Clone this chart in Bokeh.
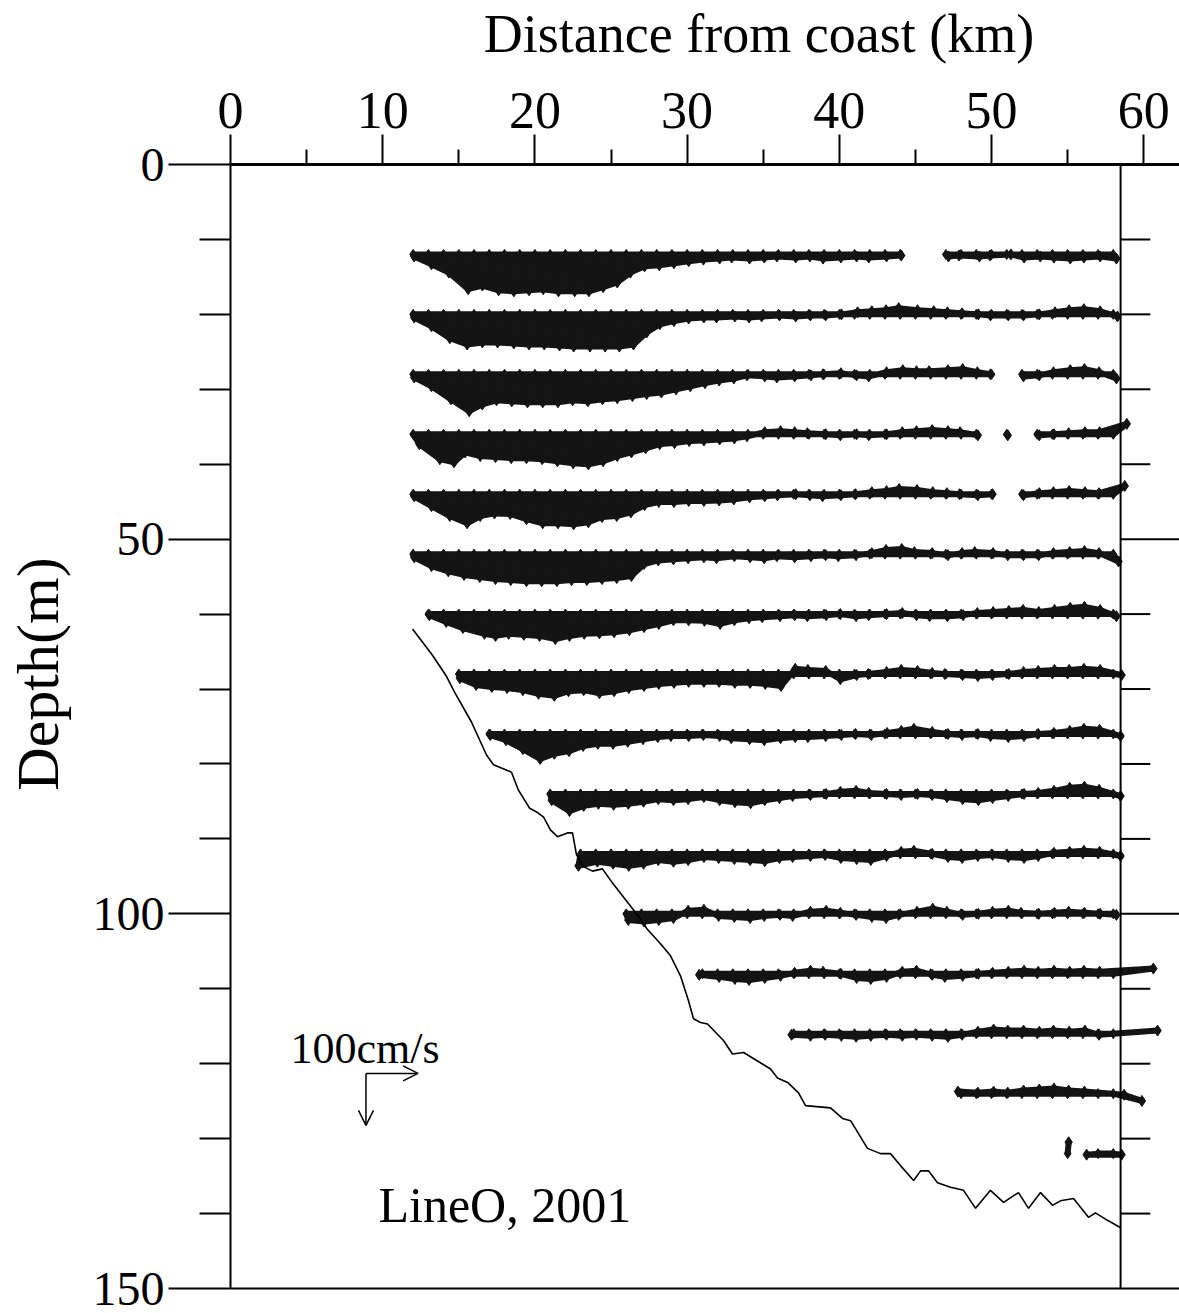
import math
from bokeh.plotting import figure
from bokeh.models import Range1d, FixedTicker, LinearAxis, Arrow, OpenHead, Span
from bokeh.core.properties import value
from bokeh.embed import file_html
from bokeh.resources import INLINE

nan = float("nan")

# ---------------- data ----------------
# depth (m) of each ADCP bin row and first station (km); stations every 1 km
ROW_DEPTH = [12, 20, 28, 36, 44, 52, 60, 68, 76, 84, 92, 100, 108, 116, 124, 132]
ROW_START = [12, 12, 12, 12, 12, 12, 13, 15, 17, 21, 23, 26, 31, 37, 48, 55]

# u: cross-shore component (cm/s, + to the right); v: component drawn downward (cm/s)
U1 = [2,6,10,18,16,18,18,18,16,16, 18,16,14,12,8,6,5,4,3,2, 4,-2,3,2,-3,4,2,-2,3,4, -2,3,2,nan,nan,5,-4,6,-3,8, 4,6,3,5,2,4,6]
V1 = [4,19,35,67,60,69,71,69,67,71, 71,71,63,54,35,23,21,17,13,10, 8,6,8,6,4,6,4,8,6,4, 6,4,2,nan,nan,4,2,4,2,0, 6,4,6,8,6,4,8]
U2 = [2,6,12,16,16,16,18,18,18,18, 16,18,18,16,14,10,6,4,3,3, -2,4,2,-3,2,4,3,3,4,6, 4,2,-3,4,6,3,2,4,-2,3, 3,4,5,3,2,4,8]
V2 = [6,23,46,58,54,54,56,58,58,60, 62,62,62,62,58,35,19,13,8,6, 6,4,6,4,2,4,2,2,0,-4, -6,-8,-12,-8,-6,-4,-2,0,2,2, 2,0,-4,-8,-10,-6,4]
U3 = [2,6,14,20,16,14,14,15,15,15, 14,14,13,12,12,10,9,8,6,5, 3,2,-2,3,-3,2,4,-2,3,4, -2,3,5,2,-3,4,3,2,-2,nan, 3,4,2,5,3,2,6]
V3 = [6,23,48,71,58,50,52,54,54,54, 50,52,48,46,42,38,35,29,23,17, 12,8,2,4,6,4,2,0,-2,2, 4,-4,-8,-6,-6,-8,-10,-4,0,nan, 4,2,-4,-8,-10,-4,8]
U4 = [12,22,20,12,12,12,13,13,14,14, 15,15,14,12,10,8,6,5,4,3, 4,3,-2,3,4,2,-3,3,2,4, -2,3,4,2,3,4,-2,3,nan,2, nan,4,3,2,4,3,26]
V4 = [19,48,54,35,42,44,46,46,48,52, 56,58,52,42,35,27,19,17,13,12, 10,8,4,-4,-6,-4,-2,0,2,0, 2,0,-4,-6,-8,-6,-4,2,nan,2, nan,2,0,-2,-4,-4,-20]
U5 = [2,6,12,16,12,10,11,13,15,15, 16,15,12,11,9,6,4,4,3,3, 3,2,3,3,-2,4,2,-3,3,2, 4,3,-2,3,4,2,-3,3,2,nan, 3,4,2,3,4,2,22]
V5 = [4,23,42,56,42,37,38,48,56,56, 58,54,44,42,35,21,15,15,13,13, 12,10,6,4,2,0,2,4,2,0, -4,-6,-10,-8,-4,-2,0,2,0,nan, 2,-2,-4,-6,-4,-2,-16]
U6 = [2,6,9,10,11,12,12,13,13,13, 12,12,12,11,10,5,3,3,2,3, -2,3,4,2,-3,2,4,3,-2,3, 4,2,3,-2,3,4,2,-3,3,2, 3,3,2,4,3,2,10]
V6 = [6,23,33,40,44,48,50,52,52,52, 50,50,48,46,42,19,12,10,8,6, 8,4,6,8,4,6,4,2,4,2, -2,-8,-10,-4,-2,2,-2,-4,-2,2, 2,2,-2,-4,-6,-2,14]
U7 = [2,5,8,20,12,8,8,9,10,8, 7,7,6,6,5,4,3,3,4,5, 3,2,-2,3,2,-3,4,2,3,-2, 3,4,2,-2,3,4,2,3,4,2, 3,4,5,3,4,6]
V7 = [2,15,27,38,42,38,40,42,48,42, 38,37,35,31,25,19,12,12,13,19, 12,8,6,4,2,4,2,0,4,2, 0,-2,2,4,4,2,-2,-4,-6,-8, -4,-8,-12,-14,-8,4]
U8 = [2,4,5,5,6,7,8,6,6,7, 6,5,5,4,4,3,3,3,4,4, 4,5,3,-2,3,2,4,-3,3,2, 4,3,-2,3,3,2,4,3,2,4, 3,2,4,16]
V8 = [8,21,25,27,31,38,42,33,31,37, 33,27,23,19,17,15,15,15,17,17, 19,23,-10,-8,-6,10,2,0,-4,-8, -6,-2,0,2,4,2,0,-4,-6,-8, -8,-10,-8,2]
U9 = [2,3,6,10,8,7,5,4,4,3, 3,2,-2,3,2,4,-3,3,2,4, 3,-2,3,4,2,3,4,2,-3,3, 4,2,3,-2,3,4,2,3,4,2, 3,14]
V9 = [2,12,29,48,38,33,23,19,19,15, 10,6,4,4,2,4,8,10,12,8, 6,6,4,2,0,2,-2,-6,-10,-4, 0,2,0,4,6,4,0,-2,-6,-10, -8,4]
U10 = [3,8,6,5,5,4,4,3,3,2, 3,4,4,5,3,2,-2,3,4,2, 3,-2,3,2,4,3,2,3,4,2, 3,4,2,3,4,3,2,14]
V10 = [12,33,23,19,21,19,15,10,12,10, 6,12,16,18,12,8,4,2,0,-4, -6,-2,0,2,0,2,6,10,12,8, 4,0,-2,-6,-12,-14,-8,4]
U11 = [-4,3,4,5,4,3,3,2,3,2, 3,4,3,2,-2,3,2,3,4,2, 3,2,-3,3,4,2,3,2,3,4, 2,3,4,2,3,14]
V11 = [23,15,19,23,19,12,15,12,6,8, 10,12,14,8,6,4,2,8,10,12, 4,-4,-6,0,6,8,4,2,6,8, 4,-2,-4,-6,-4,4]
U12 = [4,5,4,3,2,3,2,3,4,2, 3,-2,3,4,2,3,4,2,-3,3, 4,2,3,4,2,3,-2,3,4,2, 3,4,6]
V12 = [12,15,12,8,-6,-8,4,6,8,4, 2,4,-4,-6,-2,2,6,8,2,-4, -10,-4,2,0,-4,-6,-2,0,-2,-4, -2,0,2]
U13 = [-6,3,4,2,3,4,2,3,-2,3, 4,2,3,4,2,3,-2,3,4,2, 3,4,2,3,4,2,3,77]
V13 = [2,6,10,12,8,4,-2,-6,-4,0, 8,10,6,-4,-6,2,6,4,0,-2, -4,-6,-4,-6,-4,-6,-4,-10]
U14 = [-4,3,2,4,3,2,3,4,2,3, 4,2,3,4,2,3,4,2,3,4, 2,85]
V14 = [2,4,2,4,6,4,2,4,2,4, 6,2,-4,-8,-6,-6,-4,-6,-4,-6, 2,-6]
U15 = [-6,3,4,2,3,4,3,2,3,50,55]
V15 = [-4,-2,-4,-2,-6,-8,-10,-6,-4,2,14]
U16 = [2,nan,-22,16]
V16 = [-22,nan,2,2]

ROWS_U = [U1, U2, U3, U4, U5, U6, U7, U8, U9, U10, U11, U12, U13, U14, U15, U16]
ROWS_V = [V1, V2, V3, V4, V5, V6, V7, V8, V9, V10, V11, V12, V13, V14, V15, V16]

# bottom topography
BATHY_KM = [11.96, 13.27, 14.19, 14.72, 15.83, 16.82, 17.28, 18.00, 18.46, 18.92,
            19.65, 20.11, 20.57, 21.02, 21.48, 22.14, 22.47, 22.73, 23.19, 23.78,
            24.44, 25.10, 26.02, 26.94, 27.40, 28.25, 28.91, 29.57, 30.09, 30.42,
            30.88, 31.34, 32.39, 32.98, 33.71, 35.48, 35.94, 36.60, 37.32, 37.78,
            39.42, 40.21, 40.74, 41.85, 42.71, 43.36, 44.02, 44.88, 45.34, 45.86,
            46.45, 47.31, 48.16, 48.95, 49.93, 50.79, 51.77, 52.43, 53.22, 54.01,
            54.53, 55.39, 56.37, 56.83, 57.62, 58.48]
BATHY_DEPTH = [62.0, 65.5, 68.3, 70.4, 74.4, 78.8, 80.1, 80.7, 81.1, 83.5,
               85.9, 86.4, 87.1, 88.8, 89.7, 89.2, 89.2, 92.1, 93.7, 94.3,
               94.0, 95.9, 98.3, 100.7, 102.1, 104.0, 105.6, 108.3, 111.6, 114.0,
               114.5, 114.7, 116.9, 118.7, 118.5, 120.7, 121.9, 122.5, 123.9, 125.6,
               125.9, 127.3, 127.6, 131.3, 132.0, 132.0, 133.6, 135.6, 134.3, 134.3,
               135.9, 136.5, 136.9, 139.3, 136.9, 138.5, 137.2, 139.3, 137.2, 138.9,
               138.3, 138.0, 140.5, 139.9, 140.9, 141.9]

X_TICKS = [0, 10, 20, 30, 40, 50, 60]
X_MINOR = [5, 15, 25, 35, 45, 55]
Y_TICKS = [0, 50, 100, 150]
Y_MINOR = [10, 20, 30, 40, 60, 70, 80, 90, 110, 120, 130, 140]
SECTION_END_KM = 58.48
SCALE_SPEED = 100  # cm/s
X_TITLE = "Distance from coast (km)"
Y_TITLE = "Depth(m)"
SCALE_TEXT = "100cm/s"
TAG_TEXT = "LineO, 2001"

# ---------------- layout / style ----------------
FONT = "Liberation Serif"
KX = 3.42 / 100.0   # km of plot per cm/s (100 cm/s arrow)
KY = 6.93 / 100.0   # m of plot per cm/s
INK = "#141414"
NBSP = "\u00a0"

p = figure(width=1179, height=1313, output_backend="svg", toolbar_location=None,
           x_range=Range1d(0, 62.35), y_range=Range1d(150, 0),
           x_axis_location="above", y_axis_location="left",
           min_border_left=230, min_border_right=0, min_border_top=163, min_border_bottom=25,
           title=None)
p.outline_line_color = None
p.xgrid.visible = False
p.ygrid.visible = False
p.background_fill_color = "white"
p.border_fill_color = "white"

xa = p.xaxis[0]
xa.ticker = FixedTicker(ticks=X_TICKS, minor_ticks=X_MINOR)
xa.major_tick_out = 30
xa.major_tick_in = 0
xa.minor_tick_out = 15
xa.minor_tick_in = 0
xa.axis_line_width = 3
xa.major_tick_line_width = 2
xa.minor_tick_line_width = 2
xa.major_label_text_font = FONT
xa.major_label_text_font_size = "52px"
xa.major_label_standoff = 7
xa.major_label_text_color = "black"
xa.axis_label = NBSP * 8 + X_TITLE
xa.axis_label_text_font = FONT
xa.axis_label_text_font_size = "54px"
xa.axis_label_text_font_style = "normal"
xa.axis_label_text_color = "black"
xa.axis_label_standoff = 26

ya = p.yaxis[0]
ya.ticker = FixedTicker(ticks=Y_TICKS, minor_ticks=Y_MINOR)
ya.major_tick_out = 62
ya.major_tick_in = 0
ya.minor_tick_out = 31
ya.minor_tick_in = 0
ya.axis_line_width = 2
ya.major_tick_line_width = 2
ya.minor_tick_line_width = 2
ya.major_label_text_font = FONT
ya.major_label_text_font_size = "48px"
ya.major_label_standoff = 4
ya.major_label_text_color = "black"
ya.axis_label = NBSP * 7 + Y_TITLE
ya.axis_label_text_font = FONT
ya.axis_label_text_font_size = "60px"
ya.axis_label_text_font_style = "normal"
ya.axis_label_text_color = "black"
ya.axis_label_standoff = 19

bottom = LinearAxis(ticker=FixedTicker(ticks=[]), major_tick_line_color=None,
                    minor_tick_line_color=None, major_label_text_font_size="0px",
                    axis_line_width=2)
p.add_layout(bottom, "below")

# right-hand section line with its ticks
p.add_layout(Span(location=SECTION_END_KM, dimension="height", line_color="black", line_width=2))
tick_y = Y_TICKS[1:-1] + Y_MINOR
tick_len = [62.35 - SECTION_END_KM] * (len(Y_TICKS) - 2) + [1.95] * len(Y_MINOR)
p.segment(x0=[SECTION_END_KM] * len(tick_y), y0=tick_y,
          x1=[SECTION_END_KM + L for L in tick_len], y1=tick_y,
          line_color="black", line_width=2)

# ---------------- current vectors ----------------
poly_x, poly_y = [], []
seg_x0, seg_y0, seg_x1, seg_y1 = [], [], [], []
for depth, start, us, vs in zip(ROW_DEPTH, ROW_START, ROWS_U, ROWS_V):
    run = []
    for i, (u, v) in enumerate(zip(us, vs)):
        x = start + i
        ok = not (math.isnan(u) or math.isnan(v))
        if ok:
            tx, ty = x + u * KX, depth + v * KY
            run.append((x, tx, ty))
            seg_x0.append(x); seg_y0.append(depth); seg_x1.append(tx); seg_y1.append(ty)
        if (not ok or i == len(us) - 1) and run:
            bx = [r[0] for r in run]
            tips_x = [r[1] for r in run][::-1]
            tips_y = [r[2] for r in run][::-1]
            poly_x.append(bx + tips_x)
            poly_y.append([depth] * len(bx) + tips_y)
            run = []

p.patches(poly_x, poly_y, fill_color=INK, line_color=INK, line_width=6, line_join="round")
p.segment(x0=seg_x0, y0=seg_y0, x1=seg_x1, y1=seg_y1, line_color=INK, line_width=3)
p.scatter(seg_x1, seg_y1, marker="diamond", size=11, fill_color=INK, line_color=INK)
p.scatter(seg_x0, seg_y0, marker="diamond", size=10, fill_color=INK, line_color=INK)

# bottom topography
p.line(BATHY_KM, BATHY_DEPTH, line_color="black", line_width=1.6)

# velocity scale
sx0, sy0 = 8.9, 121.3
head = dict(size=15, line_width=1.5, line_color="black")
p.add_layout(Arrow(x_start=sx0, y_start=sy0, x_end=sx0 + SCALE_SPEED * KX, y_end=sy0,
                   end=OpenHead(**head), line_width=1.5, line_color="black"))
p.add_layout(Arrow(x_start=sx0, y_start=sy0, x_end=sx0, y_end=sy0 + SCALE_SPEED * KY,
                   end=OpenHead(**head), line_width=1.5, line_color="black"))
p.text(x=[3.94], y=[118.0], text=[SCALE_TEXT], text_font=value(FONT),
       text_font_size=value("44px"), text_baseline="alphabetic", text_align="left",
       text_color="black")
p.text(x=[9.72], y=[138.8], text=[TAG_TEXT], text_font=value(FONT),
       text_font_size=value("50px"), text_baseline="alphabetic", text_align="left",
       text_color="black")

open("out.html", "w").write(file_html(p, INLINE))
